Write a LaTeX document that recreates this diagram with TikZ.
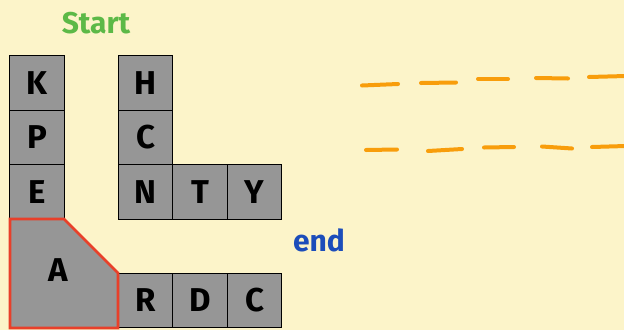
\documentclass[tikz,border=0pt]{standalone}
\usepackage{fontspec}
\setmainfont{Fira Sans}
\definecolor{bg}{HTML}{FCF4C9}
\definecolor{cellgray}{HTML}{969696}
\definecolor{redline}{HTML}{E8402A}
\definecolor{greentxt}{HTML}{5CB947}
\definecolor{bluetxt}{HTML}{1C4DBA}
\definecolor{orangedash}{HTML}{F89D0B}
\begin{document}
\begin{tikzpicture}[x=1pt,y=-1pt,
  cell/.style={draw=black,fill=cellgray,line width=0.9pt,minimum width=54.5pt,minimum height=54.5pt,inner sep=0pt,font=\bfseries\fontsize{33}{33}\selectfont},
  dashy/.style={draw=orangedash,line width=4pt,line cap=round},
  lbl/.style={inner sep=0pt,font=\bfseries\fontsize{33}{33}\selectfont}]
\fill[bg] (0,0) rectangle (624,330);
\useasboundingbox (0,0) rectangle (624,330);
% column 1
\node[cell] (K) at (37,83) {K};
\node[cell] (P) at (37,137.5) {P};
\node[cell] (E) at (37,192) {E};
% column 2
\node[cell] (H) at (145.5,83) {H};
\node[cell] (C1) at (145.5,137.5) {C};
\node[cell] (N) at (145.5,192) {N};
\node[cell] (T) at (200,192) {T};
\node[cell] (Y) at (254.5,192) {Y};
% bottom row
\node[cell] (R) at (145.5,300.5) {R};
\node[cell] (D) at (200,300.5) {D};
\node[cell] (C2) at (254.5,300.5) {C};
% A chamfered cell
\coordinate (a1) at (10,219);
\coordinate (a2) at (64,219);
\coordinate (a3) at (118,273);
\coordinate (a4) at (118,328);
\coordinate (a5) at (10,328);
\draw[redline,fill=cellgray,line width=2.6pt,line join=miter] (a1) -- (a2) -- (a3) -- (a4) -- (a5) -- cycle;
\node[lbl] (A) at (58,270) {A};
% labels
\node[lbl,text=greentxt,font=\bfseries\fontsize{30}{30}\selectfont] (start) at (96,23) {Start};
\node[lbl,text=bluetxt,font=\bfseries\fontsize{30}{30}\selectfont] (endl) at (319,240) {end};
% dashes top
\draw[dashy] (362,85.5) -- (398,84);
\draw[dashy] (421,83) -- (456,82.5);
\draw[dashy] (478,79) -- (508,79);
\draw[dashy] (536,78) -- (568,78.5);
\draw[dashy] (589,77) -- (626,76);
% dashes bottom
\draw[dashy] (366,150) -- (397,149.5);
\draw[dashy] (428,151) -- (462,149);
\draw[dashy] (484,147.5) -- (514,147);
\draw[dashy] (542,146.5) -- (572,148.5);
\draw[dashy] (592,147) -- (626,146);
\end{tikzpicture}
\end{document}
